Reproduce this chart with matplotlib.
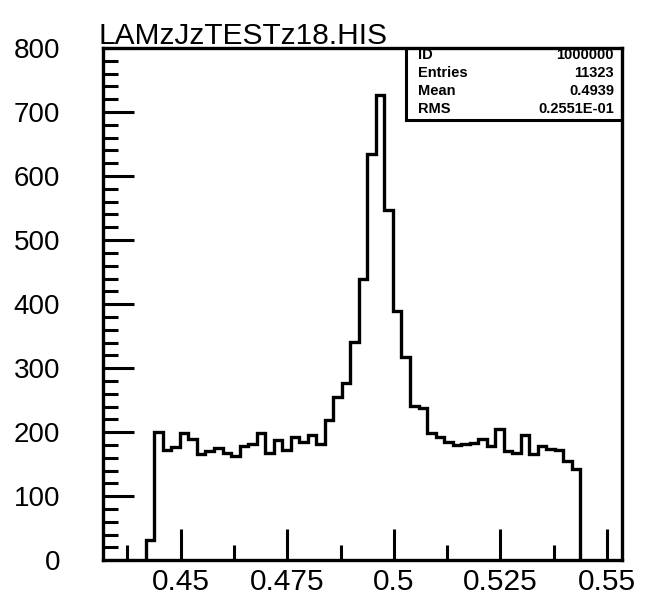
import numpy as np
import matplotlib
matplotlib.use('Agg')
import matplotlib.pyplot as plt
from matplotlib.ticker import MultipleLocator

# histogram LAMzJzTESTz18.HIS, bins of 0.002 starting at 0.4418
BIN_START = 0.4418
BIN_WIDTH = 0.002
counts = [32, 200, 172, 177, 198, 190, 166, 171, 175, 168,
          162, 178, 182, 199, 168, 187, 172, 192, 184, 195,
          181, 219, 255, 277, 341, 440, 635, 727, 547, 390,
          318, 241, 238, 199, 193, 185, 180, 182, 183, 189,
          179, 205, 171, 167, 196, 166, 178, 173, 172, 155,
          142]

stats_labels = ['ID', 'Entries', 'Mean', 'RMS']
stats_values = ['1000000', '11323', '0.4939', '0.2551E-01']

edges = BIN_START + BIN_WIDTH * np.arange(len(counts) + 1)

plt.rcParams['font.family'] = ['Liberation Sans', 'DejaVu Sans']

fig = plt.figure(figsize=(6.45, 6.01), dpi=100)
ax = fig.add_axes([0.160, 0.068, 0.804, 0.852])

ax.stairs(counts, edges, baseline=0, color='black', linewidth=2.4)

ax.set_xlim(0.4318, 0.5535)
ax.set_ylim(0, 800)

ax.xaxis.set_minor_locator(MultipleLocator(0.0125))
ax.yaxis.set_major_locator(MultipleLocator(100))
ax.yaxis.set_minor_locator(MultipleLocator(20))
ax.set_xticks([0.45, 0.475, 0.5, 0.525, 0.55])
ax.set_xticklabels(['0.45', '0.475', '0.5', '0.525', '0.55'])

ax.tick_params(which='both', direction='in', top=False, right=False, width=2.2)
ax.tick_params(which='major', length=22)
ax.tick_params(which='minor', length=11)
ax.tick_params(axis='y', pad=31, labelsize=20)
ax.tick_params(axis='x', pad=6, labelsize=21.5)

for s in ax.spines.values():
    s.set_linewidth(2.4)

fig.text(0.152, 0.927, 'LAMzJzTESTz18.HIS', fontsize=21.5, ha='left', va='baseline')

# stats box in the top right corner
bx0, by0 = 0.630, 0.801
fig.add_artist(plt.Line2D([bx0, bx0], [by0, 0.920], color='black', linewidth=2.2,
                          transform=fig.transFigure))
fig.add_artist(plt.Line2D([bx0, 0.964], [by0, by0], color='black', linewidth=2.2,
                          transform=fig.transFigure))
for i, (lab, val) in enumerate(zip(stats_labels, stats_values)):
    y = 0.909 - i * 0.030
    fig.text(0.648, y, lab, fontsize=10.5, fontweight='bold', ha='left', va='center')
    fig.text(0.952, y, val, fontsize=10.5, fontweight='bold', ha='right', va='center')

fig.savefig('out.png', dpi=100)
